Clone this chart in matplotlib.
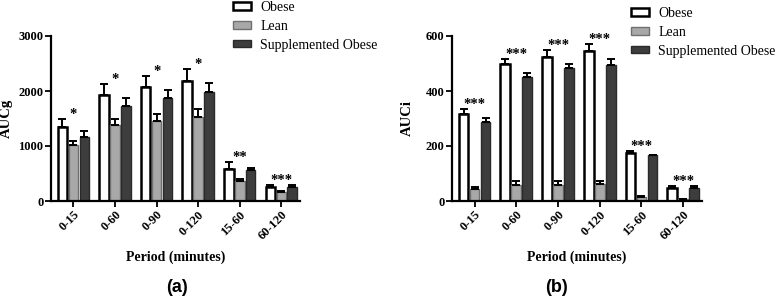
import numpy as np
import matplotlib
matplotlib.use('Agg')
import matplotlib.pyplot as plt

periods = ['0-15', '0-60', '0-90', '0-120', '15-60', '60-120']
groups = ['Obese', 'Lean', 'Supplemented Obese']

# panel (a) AUCg, mean and upper error
aucg_obese = [1350, 1930, 2070, 2180, 580, 248]
aucg_obese_err = [135, 190, 205, 225, 135, 45]
aucg_lean = [1018, 1382, 1461, 1533, 364, 158]
aucg_lean_err = [80, 110, 120, 135, 36, 24]
aucg_supp = [1170, 1727, 1879, 1976, 564, 255]
aucg_supp_err = [103, 140, 140, 175, 42, 36]
aucg_stars = ['*', '*', '*', '*', '**', '***']

# panel (b) AUCi
auci_obese = [318, 497, 525, 545, 176, 46]
auci_obese_err = [17, 18, 24, 27, 7, 10]
auci_lean = [43, 58, 58, 61, 16, 6]
auci_lean_err = [7, 13, 13, 13, 2, 2]
auci_supp = [287, 451, 482, 494, 167, 46]
auci_supp_err = [16, 15, 17, 23, 2, 10]
auci_stars = ['***', '***', '***', '***', '***', '***']

SERIF = 'Liberation Serif'
styles = [
    dict(facecolor='white', edgecolor='black', linewidth=1.8),
    dict(facecolor='#a8a8a8', edgecolor='#707070', linewidth=1.0),
    dict(facecolor='#3d3d3d', edgecolor='#2a2a2a', linewidth=1.0),
]


def draw_panel(ax, means, errs, stars, ymax, yticks, ylabel):
    x = np.arange(len(periods))
    width = 0.23
    offset = 0.264
    for i, (m, e) in enumerate(zip(means, errs)):
        pos = x + (i - 1) * offset
        ax.bar(pos, m, width, label=groups[i], zorder=2, **styles[i])
        ax.errorbar(pos, m, yerr=[np.zeros(len(e)), e], fmt='none',
                    ecolor='black', elinewidth=1.4, capsize=2.6, capthick=1.4, zorder=3)
    tops = np.max([np.array(m) + np.array(e) for m, e in zip(means, errs)], axis=0)
    for xi, t, s in zip(x, tops, stars):
        ax.text(xi, t - 0.012 * ymax, s, ha='center', va='bottom',
                fontsize=10.5, family=SERIF, fontweight='bold')

    ax.set_xlim(-0.54, 5.45)
    ax.set_ylim(0, ymax)
    ax.set_yticks(yticks)
    ax.set_xticks(x)
    ax.set_xticklabels(periods, rotation=45, ha='right', rotation_mode='anchor',
                       fontsize=9, family=SERIF, fontweight='bold')
    for lab in ax.get_yticklabels():
        lab.set_fontsize(9)
        lab.set_family(SERIF)
        lab.set_fontweight('bold')
    ax.spines['top'].set_visible(False)
    ax.spines['right'].set_visible(False)
    ax.spines['left'].set_linewidth(1.6)
    ax.spines['bottom'].set_linewidth(1.6)
    ax.tick_params(axis='both', width=1.3, length=4, pad=1.5)
    ax.set_ylabel(ylabel, fontsize=10.5, family=SERIF, fontweight='bold')
    ax.yaxis.set_label_coords(-0.152, 0.5)
    ax.set_xlabel('Period (minutes)', fontsize=10, family=SERIF, fontweight='bold')
    ax.xaxis.set_label_coords(0.5, -0.34)
    ax.xaxis.label.set_va('center')


fig = plt.figure(figsize=(7.77, 2.99), dpi=100)
ax1 = fig.add_axes([51 / 777, 1 - 201 / 299, 249 / 777, 165 / 299])
ax2 = fig.add_axes([452 / 777, 1 - 201 / 299, 250 / 777, 165 / 299])

draw_panel(ax1, [aucg_obese, aucg_lean, aucg_supp],
           [aucg_obese_err, aucg_lean_err, aucg_supp_err],
           aucg_stars, 3000, [0, 1000, 2000, 3000], 'AUCg')
draw_panel(ax2, [auci_obese, auci_lean, auci_supp],
           [auci_obese_err, auci_lean_err, auci_supp_err],
           auci_stars, 600, [0, 200, 400, 600], 'AUCi')

for ax, anchor in [(ax1, (233 / 777, 1 - 1 / 299)), (ax2, (631 / 777, 1 - 7 / 299))]:
    ax.legend(loc='upper left', bbox_to_anchor=anchor, bbox_transform=fig.transFigure,
              frameon=False, prop={'family': SERIF, 'size': 10},
              handlelength=1.3, handleheight=0.45, handletextpad=0.65,
              labelspacing=0.42, borderpad=0, borderaxespad=0)

fig.text(177 / 777, 1 - 287 / 299, '(a)', ha='center', va='center',
         fontsize=13, family='Liberation Sans', fontweight='bold')
fig.text(557 / 777, 1 - 287 / 299, '(b)', ha='center', va='center',
         fontsize=13, family='Liberation Sans', fontweight='bold')

plt.savefig('out.png', dpi=100)
